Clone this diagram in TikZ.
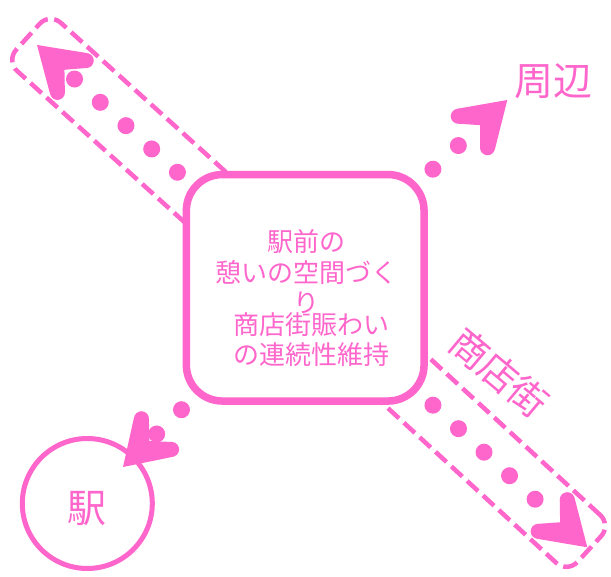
\documentclass[tikz,border=0pt]{standalone}
\usepackage{fontspec}
\setmainfont{Noto Sans CJK JP}
\definecolor{pk}{RGB}{255,102,204}
\begin{document}
\begin{tikzpicture}[x=1pt,y=-1pt,
  dotline/.style={draw=pk, line width=17pt, line cap=round, dash pattern=on 0.01pt off 34.7pt, shorten <=7pt, shorten >=40pt},
  dashbox/.style={draw=pk, line width=4.5pt, dash pattern=on 15pt off 6.5pt, rounded corners=15pt, minimum height=65pt, inner sep=0pt, outer sep=0pt},
  mainbox/.style={draw=pk, fill=white, line width=7.5pt, rounded corners=36pt, minimum width=237.7pt, minimum height=226.5pt, inner sep=0pt},
  circ/.style={draw=pk, circle, line width=5pt, minimum size=130pt, inner sep=0pt},
  lbl/.style={text=pk, inner sep=0pt},
  fatarrow/.pic={
    \fill[pk] (0,0) -- (-42.9,27.8) -- (-52.4,16.4) -- (-37,0) -- (-52.4,-16.4) -- (-42.9,-27.8) -- cycle;
    \fill[pk] (-47,21.5) circle (7.5);
    \fill[pk] (-47,-21.5) circle (7.5);
  }
]
\useasboundingbox (0,0) rectangle (611,577);

% dashed corridors
\node[dashbox, minimum width=274pt, rotate=-42.1] (corrTL) at (129.5,128.7) {};
\node[dashbox, minimum width=286pt, rotate=-42.6] (corrSE) at (484,452.3) {};

% central box
\node[mainbox] (box) at (305.2,287.8) {};
\node[lbl, align=center, font=\fontsize{26}{30.5}\selectfont] (t1) at (306,272) {駅前の\\憩いの空間づく\\り};
\node[lbl, align=center, font=\fontsize{26}{30.5}\selectfont] (t2) at (311.7,339.5) {商店街賑わい\\の連続性維持};

% station
\node[circ] (st) at (87.3,503.5) {};
\node[lbl, font=\fontsize{39}{39}\selectfont] (stl) at (86.5,508.3) {駅};

% surroundings label
\node[lbl, font=\fontsize{39}{39}\selectfont] (sur) at (553.3,81.7) {周辺};

% shopping street label
\node[lbl, font=\fontsize{38}{38}\selectfont, rotate=-40] (shop) at (499.3,372.7) {商店街};

% arrow tips
\coordinate (tipTL) at (37,45);
\coordinate (tipNE) at (507.3,100);
\coordinate (tipSW) at (123,467);
\coordinate (tipSE) at (587.3,547.3);

% dotted connectors
\draw[dotline] (box) -- (tipTL);
\draw[dotline] (box) -- (tipNE);
\draw[dotline] (box) -- (tipSW);
\draw[dotline] (box) -- (tipSE);

% arrowheads
\pic[rotate=137.9] at (tipTL) {fatarrow};
\pic[rotate=42.9] at (tipNE) {fatarrow};
\pic[rotate=224.5] at (tipSW) {fatarrow};
\pic[rotate=-42.6] at (tipSE) {fatarrow};
\end{tikzpicture}
\end{document}
